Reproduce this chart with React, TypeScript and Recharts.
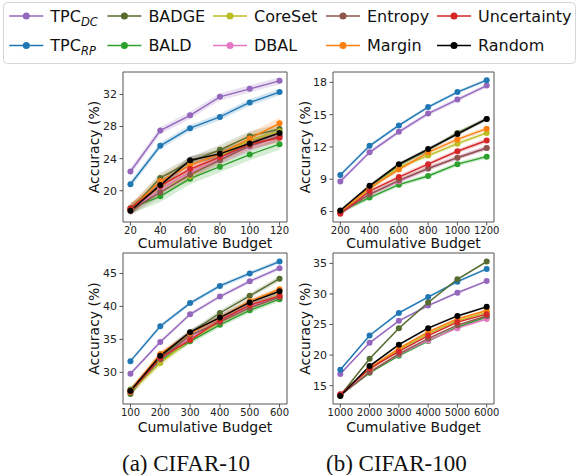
import { Area, ComposedChart, Line, ReferenceArea, XAxis, YAxis } from 'recharts'

const methods = ['TPC_DC', 'TPC_RP', 'BADGE', 'BALD', 'CoreSet', 'DBAL', 'Entropy', 'Margin', 'Uncertainty', 'Random']
const colors = ['#9467bd', '#1f77b4', '#556b2f', '#2ca02c', '#bcbd22', '#e377c2', '#8c564b', '#ff7f0e', '#d62728', '#000000']

// CIFAR-10, small budgets
const c10SmallBudget = [20, 40, 60, 80, 100, 120]
const c10Small = [
  [22.4, 27.5, 29.4, 31.7, 32.7, 33.7],
  [20.8, 25.6, 27.8, 29.2, 31.0, 32.3],
  [17.6, 21.6, 23.6, 25.1, 26.8, 27.7],
  [17.8, 19.3, 21.5, 23.0, 24.5, 25.8],
  [17.7, 20.4, 21.8, 24.3, 26.3, 27.4],
  [17.6, 20.2, 22.3, 24.0, 25.5, 26.9],
  [17.5, 19.8, 22.0, 23.8, 25.6, 26.8],
  [17.7, 21.2, 23.2, 24.6, 26.5, 28.4],
  [17.8, 20.6, 22.7, 24.2, 25.8, 26.6],
  [17.5, 20.7, 23.8, 24.6, 25.9, 27.2],
]
const c10SmallSpread = [0.45, 0.4, 0.6, 0.7, 0.7, 0.6, 0.6, 0.7, 0.6, 0.5]

// CIFAR-100, small budgets
const c100SmallBudget = [200, 400, 600, 800, 1000, 1200]
const c100Small = [
  [8.8, 11.5, 13.4, 15.1, 16.4, 17.7],
  [9.4, 12.1, 14.0, 15.7, 17.1, 18.2],
  [6.0, 8.3, 10.3, 11.7, 13.3, 14.6],
  [6.0, 7.3, 8.5, 9.3, 10.4, 11.1],
  [6.0, 8.1, 10.1, 11.2, 12.3, 13.3],
  [5.9, 7.6, 8.8, 10.0, 11.0, 11.9],
  [5.9, 7.6, 8.9, 10.0, 11.0, 11.9],
  [6.0, 8.2, 9.9, 11.5, 12.7, 13.7],
  [5.8, 7.9, 9.2, 10.4, 11.6, 12.6],
  [6.1, 8.4, 10.4, 11.8, 13.2, 14.6],
]
const c100SmallSpread = [0.2, 0.15, 0.2, 0.2, 0.2, 0.2, 0.2, 0.2, 0.2, 0.15]

// CIFAR-10, large budgets
const c10LargeBudget = [100, 200, 300, 400, 500, 600]
const c10Large = [
  [29.8, 34.6, 38.8, 41.5, 43.8, 45.8],
  [31.7, 37.0, 40.5, 43.1, 45.0, 46.8],
  [26.7, 32.3, 36.0, 39.0, 41.6, 44.2],
  [27.4, 31.8, 34.7, 37.2, 39.4, 41.1],
  [27.0, 31.4, 35.0, 37.6, 39.9, 41.8],
  [27.2, 32.0, 35.2, 37.8, 40.0, 41.5],
  [27.1, 32.0, 35.6, 37.6, 39.8, 41.4],
  [27.3, 32.8, 35.9, 38.3, 40.8, 42.6],
  [27.1, 32.2, 34.9, 37.9, 40.2, 41.6],
  [27.2, 32.5, 36.1, 38.3, 40.6, 42.3],
]
const c10LargeSpread = [0.3, 0.3, 0.4, 0.4, 0.5, 0.4, 0.4, 0.4, 0.4, 0.4]

// CIFAR-100, large budgets
const c100LargeBudget = [1000, 2000, 3000, 4000, 5000, 6000]
const c100Large = [
  [16.9, 22.0, 25.6, 28.1, 30.2, 32.1],
  [17.6, 23.2, 26.9, 29.5, 32.0, 34.1],
  [13.4, 19.4, 24.4, 28.6, 32.4, 35.3],
  [13.5, 17.1, 19.9, 22.3, 24.6, 26.2],
  [13.4, 17.6, 20.9, 23.5, 25.6, 27.0],
  [13.5, 17.3, 20.1, 22.4, 24.4, 25.9],
  [13.4, 17.2, 20.2, 22.7, 24.9, 26.4],
  [13.5, 17.9, 21.1, 23.8, 25.9, 27.3],
  [13.6, 17.8, 20.6, 23.2, 25.4, 26.7],
  [13.3, 18.2, 21.7, 24.4, 26.4, 27.9],
]
const c100LargeSpread = [0.2, 0.2, 0.2, 0.2, 0.2, 0.2, 0.2, 0.2, 0.2, 0.2]

const FONT = 'DejaVu Sans'
const SPINE = '#555'

function buildRows(budgets: number[], values: number[][], spread: number[]) {
  return budgets.map((b, i) => {
    const row: Record<string, any> = { budget: b }
    methods.forEach((m, j) => {
      row[m] = values[j][i]
      row[m + '_band'] = [values[j][i] - spread[j], values[j][i] + spread[j]]
    })
    return row
  })
}

interface PanelProps {
  rows: Record<string, any>[]
  xDomain: [number, number]
  yDomain: [number, number]
  xTicks: number[]
  yTicks: number[]
  left: number
  top: number
  width: number
  height: number
}

// one subplot; left/top/width/height describe the plot frame in page pixels
function Panel({ rows, xDomain, yDomain, xTicks, yTicks, left, top, width, height }: PanelProps) {
  const yAxisW = 40
  const xAxisH = 20
  const m = 5
  return (
    <div style={{ position: 'absolute', left: left - yAxisW - m, top: top - m }}>
      <ComposedChart
        width={width + yAxisW + 2 * m}
        height={height + xAxisH + 2 * m}
        data={rows}
        margin={{ top: m, right: m, bottom: m, left: m }}
      >
        <XAxis
          dataKey="budget"
          type="number"
          domain={xDomain}
          ticks={xTicks}
          allowDataOverflow
          height={xAxisH}
          axisLine={false}
          tickLine={{ stroke: SPINE }}
          tickSize={3.5}
          tickMargin={1.5}
          tick={{ fontSize: 10, fill: '#222', fontFamily: FONT }}
        />
        <YAxis
          type="number"
          domain={yDomain}
          ticks={yTicks}
          allowDataOverflow
          width={yAxisW}
          axisLine={false}
          tickLine={{ stroke: SPINE }}
          tickSize={3.5}
          tickMargin={2.5}
          tick={{ fontSize: 11, fill: '#222', fontFamily: FONT }}
        />
        {methods.map((name, j) => (
          <Area
            key={name + '_band'}
            dataKey={name + '_band'}
            type="linear"
            stroke="none"
            fill={colors[j]}
            fillOpacity={0.2}
            activeDot={false}
            isAnimationActive={false}
          />
        ))}
        {methods.map((name, j) => (
          <Line
            key={name}
            dataKey={name}
            type="linear"
            stroke={colors[j]}
            strokeWidth={1.4}
            dot={{ r: 3, fill: colors[j], stroke: colors[j], strokeWidth: 0 }}
            activeDot={false}
            isAnimationActive={false}
          />
        ))}
        <ReferenceArea
          x1={xDomain[0]}
          x2={xDomain[1]}
          y1={yDomain[0]}
          y2={yDomain[1]}
          fill="none"
          stroke={SPINE}
          strokeWidth={1}
          ifOverflow="visible"
        />
      </ComposedChart>
    </div>
  )
}

const legendCols = [9.3, 107.4, 213, 326, 437]
const legendRows = [16, 45.5]

function Legend() {
  return (
    <g>
      <rect x={3.5} y={2.5} width={572} height={61} rx={4} fill="#fff" stroke="#d6d6d6" />
      {methods.map((name, j) => {
        const x = legendCols[Math.floor(j / 2)]
        const y = legendRows[j % 2]
        const sub = name.startsWith('TPC_') ? name.slice(4) : null
        return (
          <g key={name}>
            <line x1={x} x2={x + 34} y1={y} y2={y} stroke={colors[j]} strokeWidth={1.5} />
            <circle cx={x + 17} cy={y} r={3.5} fill={colors[j]} />
            <text x={x + 41} y={y} dy="0.36em" fontSize={16} fontFamily={FONT} fill="#111">
              {sub ? (
                <>
                  TPC
                  <tspan fontSize={11.5} fontStyle="italic" dy="4">
                    {sub}
                  </tspan>
                </>
              ) : (
                name
              )}
            </text>
          </g>
        )
      })}
    </g>
  )
}

const frames = [
  { left: 123, top: 72, width: 164, height: 150 },
  { left: 333, top: 72, width: 161, height: 150 },
  { left: 123, top: 253, width: 164, height: 151 },
  { left: 333, top: 253, width: 161, height: 151 },
]

export default function App() {
  return (
    <div style={{ position: 'absolute', left: 0, top: 0, width: 579, height: 475, background: '#fff', fontFamily: FONT }}>
      <Panel rows={buildRows(c10SmallBudget, c10Small, c10SmallSpread)} xDomain={[15, 125]} yDomain={[16.1, 34.8]}
        xTicks={c10SmallBudget} yTicks={[20, 24, 28, 32]} {...frames[0]} />
      <Panel rows={buildRows(c100SmallBudget, c100Small, c100SmallSpread)} xDomain={[150, 1250]} yDomain={[5.03, 18.96]}
        xTicks={c100SmallBudget} yTicks={[6, 9, 12, 15, 18]} {...frames[1]} />
      <Panel rows={buildRows(c10LargeBudget, c10Large, c10LargeSpread)} xDomain={[75, 625]} yDomain={[25.2, 48.1]}
        xTicks={c10LargeBudget} yTicks={[30, 35, 40, 45]} {...frames[2]} />
      <Panel rows={buildRows(c100LargeBudget, c100Large, c100LargeSpread)} xDomain={[750, 6250]} yDomain={[12.0, 36.7]}
        xTicks={c100LargeBudget} yTicks={[15, 20, 25, 30, 35]} {...frames[3]} />
      <svg width={579} height={475} style={{ position: 'absolute', left: 0, top: 0, pointerEvents: 'none' }}>
        <Legend />
        {frames.map((f, i) => (
          <g key={i} fontFamily={FONT} fontSize={14} fill="#111">
            <text x={f.left + f.width / 2} y={i < 2 ? 248 : 431.5} textAnchor="middle">
              Cumulative Budget
            </text>
            <text
              transform={`translate(${i % 2 === 0 ? 99 : 310}, ${f.top + f.height / 2}) rotate(-90)`}
              textAnchor="middle"
            >
              Accuracy (%)
            </text>
          </g>
        ))}
        <text x={122} y={471} fontFamily="Liberation Serif" fontSize={23} fill="#111">(a) CIFAR-10</text>
        <text x={326} y={471} fontFamily="Liberation Serif" fontSize={23} fill="#111">(b) CIFAR-100</text>
      </svg>
    </div>
  )
}
